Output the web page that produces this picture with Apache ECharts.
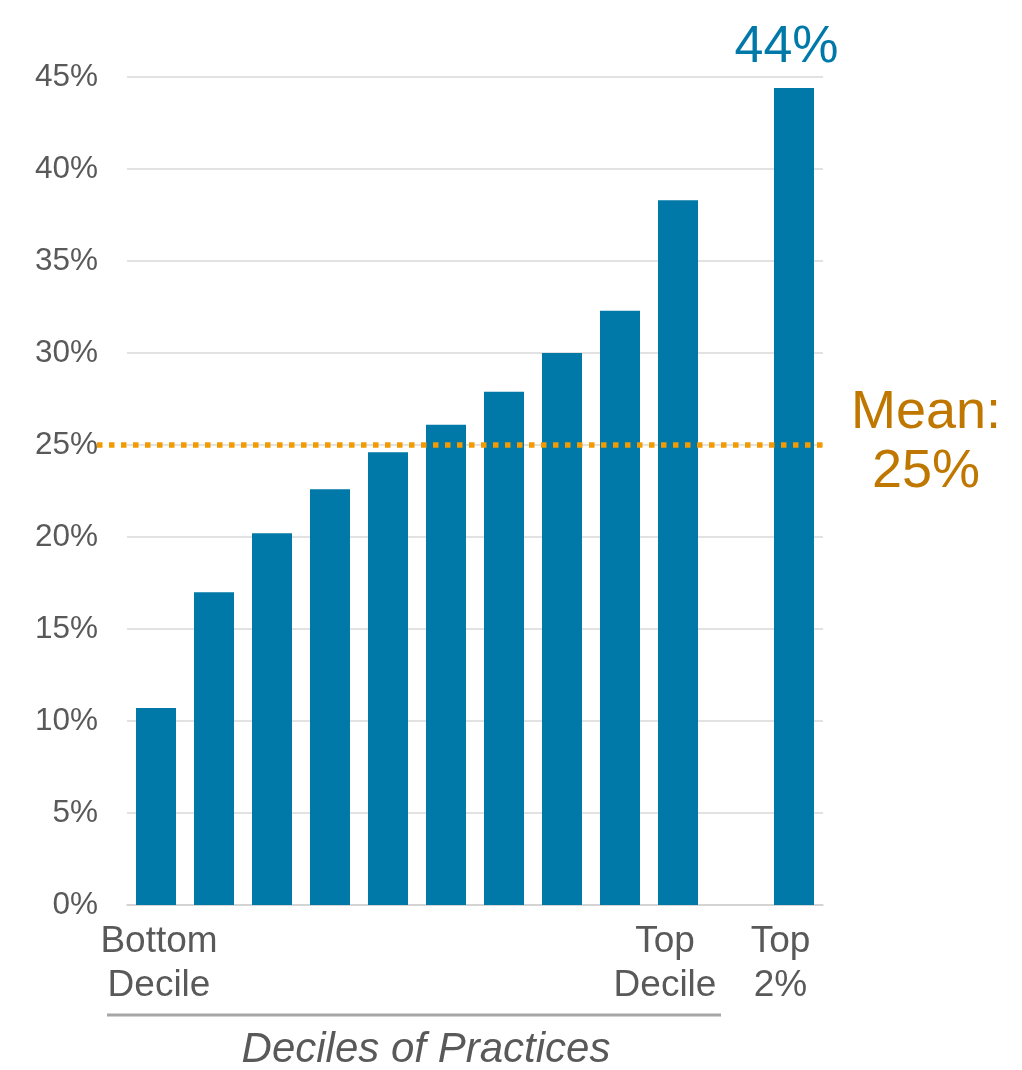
<!DOCTYPE html>
<html>
<head>
<meta charset="utf-8">
<script src="https://cdn.jsdelivr.net/npm/echarts@6/dist/echarts.min.js"></script>
<style>
  html, body { margin: 0; padding: 0; background: #ffffff; }
  #chart { width: 1022px; height: 1070px; }
</style>
</head>
<body>
<div id="chart"></div>
<script>
// ---- data ----
const categories = ['Bottom\nDecile', '', '', '', '', '', '', '', '', 'Top\nDecile', '', 'Top\n2%'];
const shareValues = [10.7, 17.0, 20.2, 22.6, 24.6, 26.1, 27.9, 30.0, 32.3, 38.3, null, 44.4];
const labelledIndex = [11];
const meanValue = 25;
const yTicks = { min: 0, max: 45, interval: 5 };
const axisTitle = 'Deciles of Practices';

// ---- styles ----
const FONT = '"Liberation Sans", Arial, Helvetica, sans-serif';
const GREY = '#595959';
const BLUE = '#0079A9';
const ORANGE = '#F39A00';
const MEAN_TEXT = '#BF7700';

const shiftedLabels = { 'Top\nDecile': [0, 26, 0, 0], 'Top\n2%': [0, 27, 0, 0], 'Bottom\nDecile': [0, 0, 0, 6] };

const chart = echarts.init(document.getElementById('chart'), null, { renderer: 'canvas' });

chart.setOption({
  backgroundColor: '#ffffff',
  animation: false,
  grid: [
    { left: 127, right: 199, top: 77, bottom: 165 },
    { left: 97, right: 199, top: 77, bottom: 165 }
  ],
  xAxis: [
    {
      type: 'category',
      gridIndex: 0,
      data: categories.map(c => shiftedLabels[c] ? { value: c, textStyle: { padding: shiftedLabels[c] } } : c),
      axisTick: { show: false },
      axisLine: { show: true, lineStyle: { color: '#D0D0D0', width: 1.5 } },
      axisLabel: {
        interval: 0,
        margin: 15,
        color: GREY,
        fontFamily: FONT,
        fontSize: 37,
        lineHeight: 44,
        align: 'center'
      }
    },
    {
      type: 'value',
      gridIndex: 1,
      min: 0,
      max: 1,
      show: false
    }
  ],
  yAxis: [
    {
      type: 'value',
      gridIndex: 0,
      min: yTicks.min,
      max: yTicks.max,
      interval: yTicks.interval,
      axisLine: { show: false },
      axisTick: { show: false },
      splitLine: { show: true, lineStyle: { color: '#D9D9D9', width: 1.5 } },
      axisLabel: {
        formatter: '{value}%',
        margin: 29,
        color: GREY,
        fontFamily: FONT,
        fontSize: 31.5
      }
    },
    {
      type: 'value',
      gridIndex: 1,
      min: yTicks.min,
      max: yTicks.max,
      show: false
    }
  ],
  series: [
    {
      type: 'bar',
      xAxisIndex: 0,
      yAxisIndex: 0,
      data: shareValues.map((v, i) => labelledIndex.includes(i)
        ? {
            value: v,
            label: {
              show: true,
              position: 'top',
              distance: 14,
              padding: [0, 15, 0, 0],
              formatter: p => Math.round(p.value) + '%',
              color: BLUE,
              fontFamily: FONT,
              fontSize: 52
            }
          }
        : v),
      barCategoryGap: '31%',
      itemStyle: { color: BLUE },
      z: 2
    },
    {
      type: 'line',
      xAxisIndex: 1,
      yAxisIndex: 1,
      data: [[0, meanValue], [1, meanValue]],
      symbol: 'none',
      lineStyle: { color: ORANGE, width: 5.5, type: [5.5, 6.5], cap: 'butt' },
      z: 5,
      silent: true
    }
  ],
  graphic: [
    {
      type: 'line',
      shape: { x1: 107, y1: 1015, x2: 721, y2: 1015 },
      style: { stroke: '#A6A6A6', lineWidth: 3 }
    },
    {
      type: 'text',
      x: 426,
      y: 1029,
      style: {
        text: axisTitle,
        font: 'italic 42px ' + FONT,
        fill: GREY,
        align: 'center',
        verticalAlign: 'top'
      }
    },
    {
      type: 'text',
      x: 926,
      y: 384,
      style: {
        text: 'Mean:\n' + meanValue + '%',
        font: '54px ' + FONT,
        lineHeight: 59,
        fill: MEAN_TEXT,
        align: 'center',
        verticalAlign: 'top'
      }
    }
  ]
});
</script>
</body>
</html>
